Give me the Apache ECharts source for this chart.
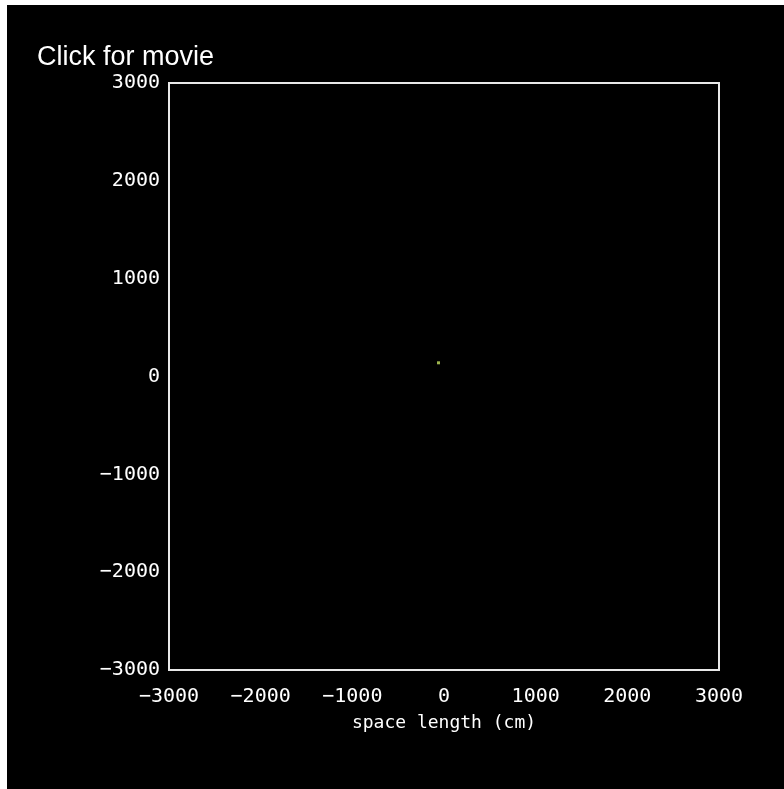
<!DOCTYPE html>
<html>
<head>
<meta charset="utf-8">
<script src="https://cdn.jsdelivr.net/npm/echarts@6/dist/echarts.min.js"></script>
<style>
  html, body { margin: 0; padding: 0; background: #ffffff; }
  #chart { position: absolute; left: 7px; top: 5px; width: 777px; height: 784px; }
</style>
</head>
<body>
<div id="chart"></div>
<script>
// Axis ranges and ticks (cm)
const xTicks = [-3000, -2000, -1000, 0, 1000, 2000, 3000];
const yTicks = [-3000, -2000, -1000, 0, 1000, 2000, 3000];
// Particle position in the current frame: [x, y] in cm
const particleX = [-60];
const particleY = [140];

const points = particleX.map((x, i) => [x, particleY[i]]);
const fmt = v => String(v).replace('-', '\u2212');

const chart = echarts.init(document.getElementById('chart'));
chart.setOption({
  backgroundColor: '#000000',
  animation: false,
  title: {
    text: 'Click for movie',
    left: 30,
    top: 39,
    padding: 0,
    textStyle: { color: '#ffffff', fontFamily: 'Liberation Sans', fontSize: 27, fontWeight: 'normal' }
  },
  grid: {
    left: 162, top: 78, right: 65, bottom: 119,
    show: true, borderColor: '#e8e8e8', borderWidth: 2, backgroundColor: 'transparent'
  },
  xAxis: {
    type: 'value',
    min: xTicks[0], max: xTicks[xTicks.length - 1], interval: 1000,
    name: 'space length (cm)',
    nameLocation: 'middle',
    nameGap: 44,
    nameTextStyle: { color: '#ffffff', fontFamily: 'DejaVu Sans Mono', fontSize: 18 },
    axisLine: { show: false },
    axisTick: { show: false },
    splitLine: { show: false },
    axisLabel: { color: '#ffffff', fontFamily: 'DejaVu Sans Mono', fontSize: 20, margin: 17, formatter: fmt }
  },
  yAxis: {
    type: 'value',
    min: yTicks[0], max: yTicks[yTicks.length - 1], interval: 1000,
    axisLine: { show: false },
    axisTick: { show: false },
    splitLine: { show: false },
    axisLabel: { color: '#ffffff', fontFamily: 'DejaVu Sans Mono', fontSize: 20, margin: 9, formatter: fmt }
  },
  series: [{
    type: 'scatter',
    data: points,
    symbol: 'rect',
    symbolSize: 3,
    itemStyle: { color: '#c4e060' }
  }]
});
</script>
</body>
</html>
